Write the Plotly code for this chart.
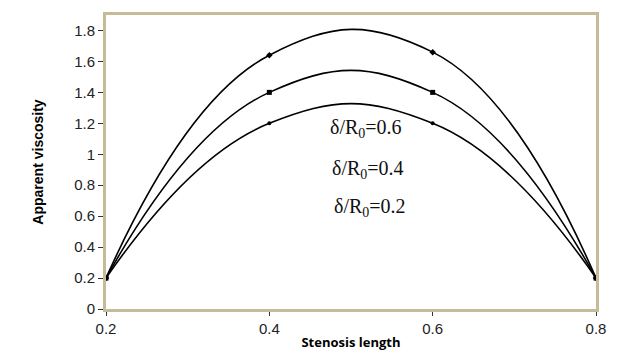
import plotly.graph_objects as go

x_vals = [0.2, 0.4, 0.6, 0.8]
visc_06 = [0.2, 1.64, 1.66, 0.2]
visc_04 = [0.2, 1.40, 1.40, 0.2]
visc_02 = [0.2, 1.20, 1.20, 0.2]
labels = ["δ/R<sub>0</sub>=0.6", "δ/R<sub>0</sub>=0.4", "δ/R<sub>0</sub>=0.2"]
label_x = [0.518, 0.521, 0.523]
label_y = [1.165, 0.90, 0.655]

fig = go.Figure()
for ys, sym, sz in [(visc_06, "diamond", 5), (visc_04, "square", 5), (visc_02, "circle", 4)]:
    fig.add_trace(go.Scatter(
        x=x_vals, y=ys, mode="lines+markers",
        line=dict(shape="spline", smoothing=1.3, color="black", width=1.6),
        marker=dict(symbol=sym, size=sz, color="black"),
        showlegend=False))

for t, lx, ly in zip(labels, label_x, label_y):
    fig.add_annotation(x=lx, y=ly, text=t, showarrow=False,
                       font=dict(family="Liberation Serif", size=20, color="#111"))

fig.update_layout(
    width=630, height=360,
    margin=dict(l=106, r=34, t=13, b=44),
    paper_bgcolor="white", plot_bgcolor="white",
    font=dict(family="Liberation Sans", size=15, color="#222"),
)
fig.update_xaxes(range=[0.2, 0.8], tickvals=[0.2, 0.4, 0.6, 0.8], ticktext=["0.2", "0.4", "0.6", "0.8"],
                 showgrid=False, zeroline=False, showline=True, linecolor="#c4bc96", linewidth=3,
                 mirror=True, ticks="outside", ticklen=4, tickcolor="#333",
                 title=dict(text="<b>Stenosis length</b>", font=dict(size=13, family="Open Sans", color="black"), standoff=2))
fig.update_yaxes(range=[0, 1.9], tickvals=[0, 0.2, 0.4, 0.6, 0.8, 1, 1.2, 1.4, 1.6, 1.8],
                 ticktext=["0", "0.2", "0.4", "0.6", "0.8", "1", "1.2", "1.4", "1.6", "1.8"],
                 showgrid=False, zeroline=False, showline=True, linecolor="#c4bc96", linewidth=3,
                 mirror=True, ticks="outside", ticklen=5, tickcolor="#333",
                 title=dict(text="<b>Apparent viscosity</b>", font=dict(size=14, color="black"), standoff=28))

fig.write_html("out.html")
